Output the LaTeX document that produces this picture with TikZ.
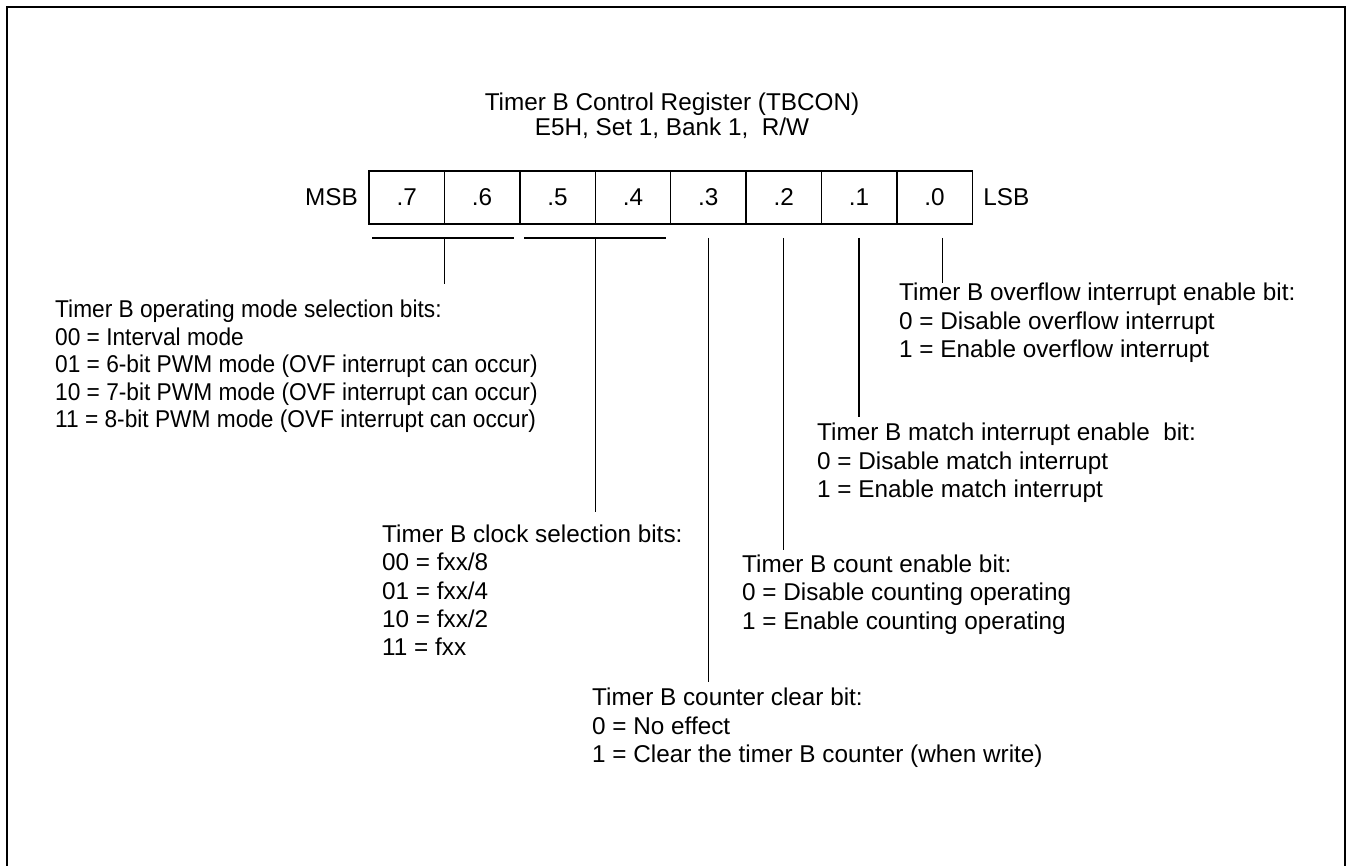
\documentclass[tikz,border=0pt]{standalone}
\usepackage{fontspec}
\setmainfont{Liberation Sans}
\newfontfamily\narrowsans[FakeStretch=0.934]{Liberation Sans}
\usepackage{tikz}
\usetikzlibrary{calc,positioning}

\begin{document}
\begin{tikzpicture}[x=1pt,y=-1pt,
    every node/.style={font=\fontsize{24.3}{28.3}\selectfont},
    bitcell/.style={draw,line width=1.4pt,minimum width=75.4pt,minimum height=53pt,inner sep=0pt,outer sep=0pt},
    lead/.style={line width=1.4pt},
    desc/.style={anchor=north west,align=left,inner sep=0pt}]
  \useasboundingbox (0,0) rectangle (1346,866);
  % frame, open at the bottom
  \draw[line width=2pt] (7,866) -- (7,7) -- (1344.5,7) -- (1344.5,866);
  % title
  \node[align=center,font=\fontsize{24.3}{25}\selectfont] (title) at (672,116) {Timer B Control Register (TBCON)\\E5H, Set 1, Bank 1,\ \ R/W};
  % register .7 ... .0
  \foreach \i/\b in {0/7,1/6,2/5,3/4,4/3,5/2,6/1,7/0}
    \node[bitcell] (b\b) at ({406.7+75.4*\i},197.5) {.\b};
  \node[left=11pt of b7,inner sep=0pt] (msb) {MSB};
  \node[right=11pt of b0,inner sep=0pt] (lsb) {LSB};
  \coordinate (bar) at (0,238);
  \draw[lead] ([xshift=3pt]b7.south west |- bar) -- ([xshift=-6pt]b6.south east |- bar);
  \draw[lead] ([xshift=4.5pt]b5.south west |- bar) -- ([xshift=-5pt]b4.south east |- bar);

  % descriptions
  \node[desc,font=\narrowsans\fontsize{24.3}{27.5}\selectfont] (mode) at (55,300) {Timer B operating mode selection bits:\\
    00 = Interval mode\\
    01 = 6-bit PWM mode (OVF interrupt can occur)\\
    10 = 7-bit PWM mode (OVF interrupt can occur)\\
    11 = 8-bit PWM mode (OVF interrupt can occur)};
  \node[desc] (clk) at (382,524.6) {Timer B clock selection bits:\\
    00 = fxx/8\\
    01 = fxx/4\\
    10 = fxx/2\\
    11 = fxx};
  \node[desc] (clr) at (592,688) {Timer B counter clear bit:\\
    0 = No effect\\
    1 = Clear the timer B counter (when write)};
  \node[desc] (cnt) at (742,554.6) {Timer B count enable bit:\\
    0 = Disable counting operating\\
    1 = Enable counting operating};
  \node[desc] (mat) at (817,423) {Timer B match interrupt enable\ \ bit:\\
    0 = Disable match interrupt\\
    1 = Enable match interrupt};
  \node[desc] (ovf) at (899,283) {Timer B overflow interrupt enable bit:\\
    0 = Disable overflow interrupt\\
    1 = Enable overflow interrupt};

  % leads from the bits down to their texts
  \draw[lead,shorten >=16pt] (b6.south west |- bar) -- (b6.south west |- mode.north);
  \draw[lead,shorten >=12.3pt] (b4.south west |- bar) -- (b4.south west |- clk.north);
  \draw[lead,shorten >=6.3pt] (b3.south |- bar) -- (b3.south |- clr.north);
  \draw[lead,shorten >=4.6pt] (b2.south |- bar) -- (b2.south |- cnt.north);
  \draw[lead,shorten >=6.3pt] (b1.south |- bar) -- (b1.south |- mat.north);
  \draw[lead] ([xshift=8pt]b0.south |- bar) -- ([xshift=8pt]b0.south |- ovf.north);
\end{tikzpicture}
\end{document}
